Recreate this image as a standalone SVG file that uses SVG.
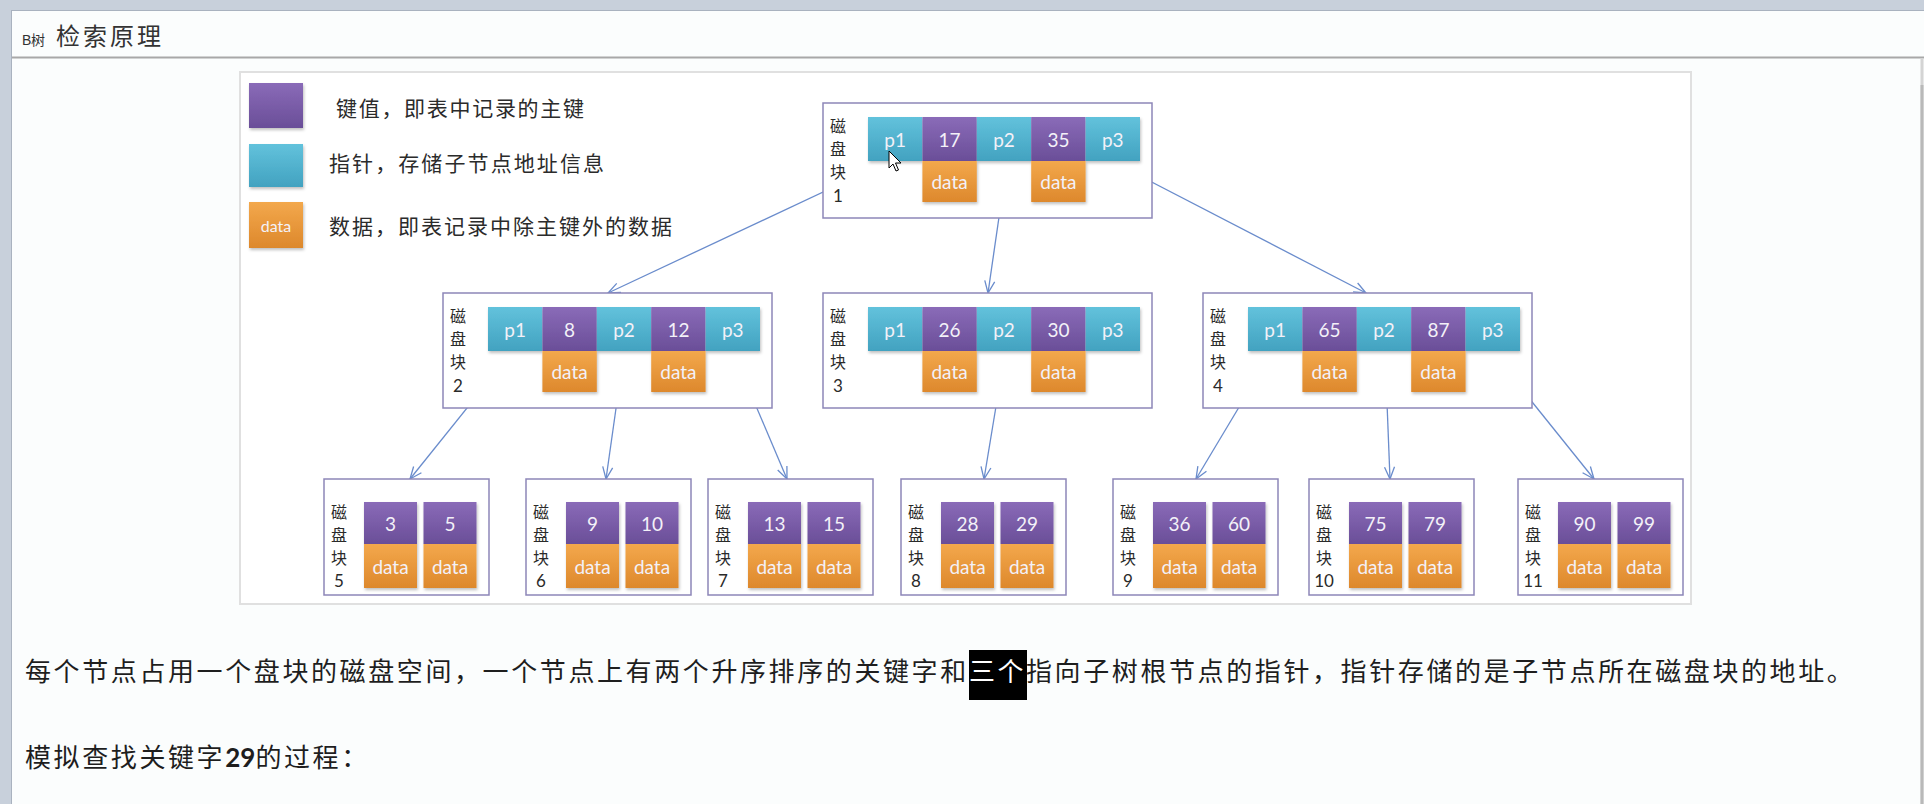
<svg xmlns="http://www.w3.org/2000/svg" width="1924" height="804" viewBox="0 0 1924 804">
<defs>
<linearGradient id="gP" x1="0" y1="0" x2="0" y2="1"><stop offset="0" stop-color="#8a6bb8"/><stop offset="1" stop-color="#6a4e98"/></linearGradient>
<linearGradient id="gC" x1="0" y1="0" x2="0" y2="1"><stop offset="0" stop-color="#62c2dc"/><stop offset="1" stop-color="#42a2c0"/></linearGradient>
<linearGradient id="gO" x1="0" y1="0" x2="0" y2="1"><stop offset="0" stop-color="#f3a84c"/><stop offset="1" stop-color="#dd882c"/></linearGradient>
<filter id="sh" x="-10%" y="-10%" width="130%" height="140%"><feDropShadow dx="1" dy="2" stdDeviation="1.5" flood-color="#000" flood-opacity="0.25"/></filter>
<marker id="arr" markerUnits="userSpaceOnUse" markerWidth="16" markerHeight="14" refX="13" refY="6" orient="auto"><path d="M1,1 L13,6 L1,11" fill="none" stroke="#6a8ccc" stroke-width="1.3"/></marker>
<style>
.box{fill:#fff;stroke:#8d86b8;stroke-width:1.5}
.key{fill:url(#gP)}
.ptr{fill:url(#gC)}
.dat{fill:url(#gO)}
.ct{font-family:Lato,"Liberation Sans",sans-serif;font-size:19px;fill:#f3f1f8;text-anchor:middle;dominant-baseline:central}
.lbl{font-family:"Noto Sans CJK SC",sans-serif;font-size:16px;fill:#2a2a2a;text-anchor:middle}
.num{font-family:Lato,"Liberation Sans",sans-serif;font-size:17px;fill:#2a2a2a;text-anchor:middle}
.leg{font-family:"Noto Sans CJK SC",sans-serif;font-size:21px;fill:#2b2b2b}
.conn{stroke:#6a8ccc;stroke-width:1.3;fill:none;marker-end:url(#arr)}
.body{font-family:"Noto Sans CJK SC",sans-serif;font-size:26px;letter-spacing:2.6px;fill:#1e1e1e}
</style>
</defs>
<!-- page frame -->
<rect x="0" y="0" width="1924" height="804" fill="#fbfdfd"/>
<rect x="0" y="0" width="1924" height="10" fill="#c8d0db"/>
<line x1="0" y1="10.5" x2="1924" y2="10.5" stroke="#a9b2bf" stroke-width="1"/>
<rect x="0" y="0" width="12" height="804" fill="#c8d0db"/>
<line x1="11.5" y1="10" x2="11.5" y2="804" stroke="#a9b2bf" stroke-width="1"/>
<line x1="12" y1="57.5" x2="1924" y2="57.5" stroke="#a8a8a8" stroke-width="2"/>
<line x1="1922" y1="58" x2="1922" y2="804" stroke="#d4d4d4" stroke-width="3"/>
<line x1="1922" y1="85" x2="1922" y2="804" stroke="#b9b9b9" stroke-width="3"/>
<g id="title">
<text x="22" y="45" font-family="Liberation Sans,sans-serif" font-size="14" fill="#333">B</text>
<text x="31" y="45" font-family="'Noto Sans CJK SC',sans-serif" font-size="14" fill="#333">树</text>
<text x="56" y="45" font-family="'Noto Sans CJK SC',sans-serif" font-size="24" letter-spacing="3" fill="#333">检索原理</text>
</g>
<!-- diagram frame -->
<rect x="240" y="72" width="1451" height="532" fill="#ffffff" stroke="#e0e0e0" stroke-width="2"/>
<g id="legend">
<rect x="249" y="83" width="54" height="45" class="key" filter="url(#sh)"/>
<rect x="249" y="144" width="54" height="43" class="ptr" filter="url(#sh)"/>
<rect x="249" y="202" width="54" height="46" class="dat" filter="url(#sh)"/>
<text x="276" y="225" class="ct" style="font-size:16px">data</text>
<text x="336" y="116" class="leg" textLength="248">键值，即表中记录的主键</text>
<text x="329" y="171" class="leg" textLength="275">指针，存储子节点地址信息</text>
<text x="329" y="234" class="leg" textLength="343">数据，即表记录中除主键外的数据</text>
</g>
<g id="connectors">
<line class="conn" x1="887" y1="162" x2="608" y2="293"/>
<line class="conn" x1="1007" y1="162" x2="988" y2="293"/>
<line class="conn" x1="1113" y1="162" x2="1366" y2="293"/>
<line class="conn" x1="512" y1="352" x2="410" y2="479"/>
<line class="conn" x1="624" y1="352" x2="606" y2="479"/>
<line class="conn" x1="733" y1="352" x2="787" y2="479"/>
<line class="conn" x1="1005" y1="352" x2="984" y2="479"/>
<line class="conn" x1="1272" y1="352" x2="1196" y2="479"/>
<line class="conn" x1="1385" y1="352" x2="1390" y2="479"/>
<line class="conn" x1="1492" y1="352" x2="1594" y2="479"/>
</g>
<g id="node1" transform="translate(823,103)">
<rect class="box" x="0" y="0" width="329" height="115"/>
<text class="lbl" x="15" y="29">磁</text><text class="lbl" x="15" y="52">盘</text><text class="lbl" x="15" y="75">块</text><text class="num" x="15" y="99">1</text>
<g filter="url(#sh)"><rect class="dat" x="99.4" y="58" width="54.4" height="41"/><rect class="dat" x="208.2" y="58" width="54.4" height="41"/>
<rect class="ptr" x="45" y="14" width="54.4" height="44"/><rect class="key" x="99.4" y="14" width="54.4" height="44"/><rect class="ptr" x="153.8" y="14" width="54.4" height="44"/><rect class="key" x="208.2" y="14" width="54.4" height="44"/><rect class="ptr" x="262.6" y="14" width="54.4" height="44"/></g>
<text class="ct" x="72.2" y="36">p1</text><text class="ct" x="126.6" y="36">17</text><text class="ct" x="181" y="36">p2</text><text class="ct" x="235.4" y="36">35</text><text class="ct" x="289.8" y="36">p3</text>
<text class="ct" x="126.6" y="78">data</text><text class="ct" x="235.4" y="78">data</text>
</g>
<g id="node2" transform="translate(443,293)">
<rect class="box" x="0" y="0" width="329" height="115"/>
<text class="lbl" x="15" y="29">磁</text><text class="lbl" x="15" y="52">盘</text><text class="lbl" x="15" y="75">块</text><text class="num" x="15" y="99">2</text>
<g filter="url(#sh)"><rect class="dat" x="99.4" y="58" width="54.4" height="41"/><rect class="dat" x="208.2" y="58" width="54.4" height="41"/>
<rect class="ptr" x="45" y="14" width="54.4" height="44"/><rect class="key" x="99.4" y="14" width="54.4" height="44"/><rect class="ptr" x="153.8" y="14" width="54.4" height="44"/><rect class="key" x="208.2" y="14" width="54.4" height="44"/><rect class="ptr" x="262.6" y="14" width="54.4" height="44"/></g>
<text class="ct" x="72.2" y="36">p1</text><text class="ct" x="126.6" y="36">8</text><text class="ct" x="181" y="36">p2</text><text class="ct" x="235.4" y="36">12</text><text class="ct" x="289.8" y="36">p3</text>
<text class="ct" x="126.6" y="78">data</text><text class="ct" x="235.4" y="78">data</text>
</g>
<g id="node3" transform="translate(823,293)">
<rect class="box" x="0" y="0" width="329" height="115"/>
<text class="lbl" x="15" y="29">磁</text><text class="lbl" x="15" y="52">盘</text><text class="lbl" x="15" y="75">块</text><text class="num" x="15" y="99">3</text>
<g filter="url(#sh)"><rect class="dat" x="99.4" y="58" width="54.4" height="41"/><rect class="dat" x="208.2" y="58" width="54.4" height="41"/>
<rect class="ptr" x="45" y="14" width="54.4" height="44"/><rect class="key" x="99.4" y="14" width="54.4" height="44"/><rect class="ptr" x="153.8" y="14" width="54.4" height="44"/><rect class="key" x="208.2" y="14" width="54.4" height="44"/><rect class="ptr" x="262.6" y="14" width="54.4" height="44"/></g>
<text class="ct" x="72.2" y="36">p1</text><text class="ct" x="126.6" y="36">26</text><text class="ct" x="181" y="36">p2</text><text class="ct" x="235.4" y="36">30</text><text class="ct" x="289.8" y="36">p3</text>
<text class="ct" x="126.6" y="78">data</text><text class="ct" x="235.4" y="78">data</text>
</g>
<g id="node4" transform="translate(1203,293)">
<rect class="box" x="0" y="0" width="329" height="115"/>
<text class="lbl" x="15" y="29">磁</text><text class="lbl" x="15" y="52">盘</text><text class="lbl" x="15" y="75">块</text><text class="num" x="15" y="99">4</text>
<g filter="url(#sh)"><rect class="dat" x="99.4" y="58" width="54.4" height="41"/><rect class="dat" x="208.2" y="58" width="54.4" height="41"/>
<rect class="ptr" x="45" y="14" width="54.4" height="44"/><rect class="key" x="99.4" y="14" width="54.4" height="44"/><rect class="ptr" x="153.8" y="14" width="54.4" height="44"/><rect class="key" x="208.2" y="14" width="54.4" height="44"/><rect class="ptr" x="262.6" y="14" width="54.4" height="44"/></g>
<text class="ct" x="72.2" y="36">p1</text><text class="ct" x="126.6" y="36">65</text><text class="ct" x="181" y="36">p2</text><text class="ct" x="235.4" y="36">87</text><text class="ct" x="289.8" y="36">p3</text>
<text class="ct" x="126.6" y="78">data</text><text class="ct" x="235.4" y="78">data</text>
</g>
<g id="node5" transform="translate(324,479)">
<rect class="box" x="0" y="0" width="165" height="116"/>
<text class="lbl" x="15" y="39">磁</text><text class="lbl" x="15" y="62">盘</text><text class="lbl" x="15" y="85">块</text><text class="num" x="15" y="108">5</text>
<g filter="url(#sh)"><rect class="key" x="40" y="23" width="53" height="42"/><rect class="key" x="99.5" y="23" width="53" height="42"/><rect class="dat" x="40" y="65" width="53" height="44"/><rect class="dat" x="99.5" y="65" width="53" height="44"/></g>
<text class="ct" x="66.5" y="44">3</text><text class="ct" x="126" y="44">5</text><text class="ct" x="66.5" y="87">data</text><text class="ct" x="126" y="87">data</text>
</g>
<g id="node6" transform="translate(526,479)">
<rect class="box" x="0" y="0" width="165" height="116"/>
<text class="lbl" x="15" y="39">磁</text><text class="lbl" x="15" y="62">盘</text><text class="lbl" x="15" y="85">块</text><text class="num" x="15" y="108">6</text>
<g filter="url(#sh)"><rect class="key" x="40" y="23" width="53" height="42"/><rect class="key" x="99.5" y="23" width="53" height="42"/><rect class="dat" x="40" y="65" width="53" height="44"/><rect class="dat" x="99.5" y="65" width="53" height="44"/></g>
<text class="ct" x="66.5" y="44">9</text><text class="ct" x="126" y="44">10</text><text class="ct" x="66.5" y="87">data</text><text class="ct" x="126" y="87">data</text>
</g>
<g id="node7" transform="translate(708,479)">
<rect class="box" x="0" y="0" width="165" height="116"/>
<text class="lbl" x="15" y="39">磁</text><text class="lbl" x="15" y="62">盘</text><text class="lbl" x="15" y="85">块</text><text class="num" x="15" y="108">7</text>
<g filter="url(#sh)"><rect class="key" x="40" y="23" width="53" height="42"/><rect class="key" x="99.5" y="23" width="53" height="42"/><rect class="dat" x="40" y="65" width="53" height="44"/><rect class="dat" x="99.5" y="65" width="53" height="44"/></g>
<text class="ct" x="66.5" y="44">13</text><text class="ct" x="126" y="44">15</text><text class="ct" x="66.5" y="87">data</text><text class="ct" x="126" y="87">data</text>
</g>
<g id="node8" transform="translate(901,479)">
<rect class="box" x="0" y="0" width="165" height="116"/>
<text class="lbl" x="15" y="39">磁</text><text class="lbl" x="15" y="62">盘</text><text class="lbl" x="15" y="85">块</text><text class="num" x="15" y="108">8</text>
<g filter="url(#sh)"><rect class="key" x="40" y="23" width="53" height="42"/><rect class="key" x="99.5" y="23" width="53" height="42"/><rect class="dat" x="40" y="65" width="53" height="44"/><rect class="dat" x="99.5" y="65" width="53" height="44"/></g>
<text class="ct" x="66.5" y="44">28</text><text class="ct" x="126" y="44">29</text><text class="ct" x="66.5" y="87">data</text><text class="ct" x="126" y="87">data</text>
</g>
<g id="node9" transform="translate(1113,479)">
<rect class="box" x="0" y="0" width="165" height="116"/>
<text class="lbl" x="15" y="39">磁</text><text class="lbl" x="15" y="62">盘</text><text class="lbl" x="15" y="85">块</text><text class="num" x="15" y="108">9</text>
<g filter="url(#sh)"><rect class="key" x="40" y="23" width="53" height="42"/><rect class="key" x="99.5" y="23" width="53" height="42"/><rect class="dat" x="40" y="65" width="53" height="44"/><rect class="dat" x="99.5" y="65" width="53" height="44"/></g>
<text class="ct" x="66.5" y="44">36</text><text class="ct" x="126" y="44">60</text><text class="ct" x="66.5" y="87">data</text><text class="ct" x="126" y="87">data</text>
</g>
<g id="node10" transform="translate(1309,479)">
<rect class="box" x="0" y="0" width="165" height="116"/>
<text class="lbl" x="15" y="39">磁</text><text class="lbl" x="15" y="62">盘</text><text class="lbl" x="15" y="85">块</text><text class="num" x="15" y="108">10</text>
<g filter="url(#sh)"><rect class="key" x="40" y="23" width="53" height="42"/><rect class="key" x="99.5" y="23" width="53" height="42"/><rect class="dat" x="40" y="65" width="53" height="44"/><rect class="dat" x="99.5" y="65" width="53" height="44"/></g>
<text class="ct" x="66.5" y="44">75</text><text class="ct" x="126" y="44">79</text><text class="ct" x="66.5" y="87">data</text><text class="ct" x="126" y="87">data</text>
</g>
<g id="node11" transform="translate(1518,479)">
<rect class="box" x="0" y="0" width="165" height="116"/>
<text class="lbl" x="15" y="39">磁</text><text class="lbl" x="15" y="62">盘</text><text class="lbl" x="15" y="85">块</text><text class="num" x="15" y="108">11</text>
<g filter="url(#sh)"><rect class="key" x="40" y="23" width="53" height="42"/><rect class="key" x="99.5" y="23" width="53" height="42"/><rect class="dat" x="40" y="65" width="53" height="44"/><rect class="dat" x="99.5" y="65" width="53" height="44"/></g>
<text class="ct" x="66.5" y="44">90</text><text class="ct" x="126" y="44">99</text><text class="ct" x="66.5" y="87">data</text><text class="ct" x="126" y="87">data</text>
</g>
<g id="cursor" transform="translate(889,151)">
<path d="M0,0 L0,17 L4,13 L7,20 L9.5,19 L6.5,12 L12,12 Z" fill="#ffffff" stroke="#000" stroke-width="1"/>
</g>
<g id="text">
<rect x="969" y="650" width="58" height="50" fill="#000"/>
<text class="body" x="25" y="681">每个节点占用一个盘块的磁盘空间，一个节点上有两个升序排序的关键字和</text>
<text class="body" x="969" y="681" style="fill:#ffffff">三个</text>
<text class="body" x="1026" y="681">指向子树根节点的指针，指针存储的是子节点所在磁盘块的地址。</text>
<text class="body" x="25" y="767">模拟查找关键字<tspan font-family="Lato,'Liberation Sans',sans-serif" font-weight="bold" letter-spacing="0">29</tspan>的过程：</text>
</g>
</svg>
